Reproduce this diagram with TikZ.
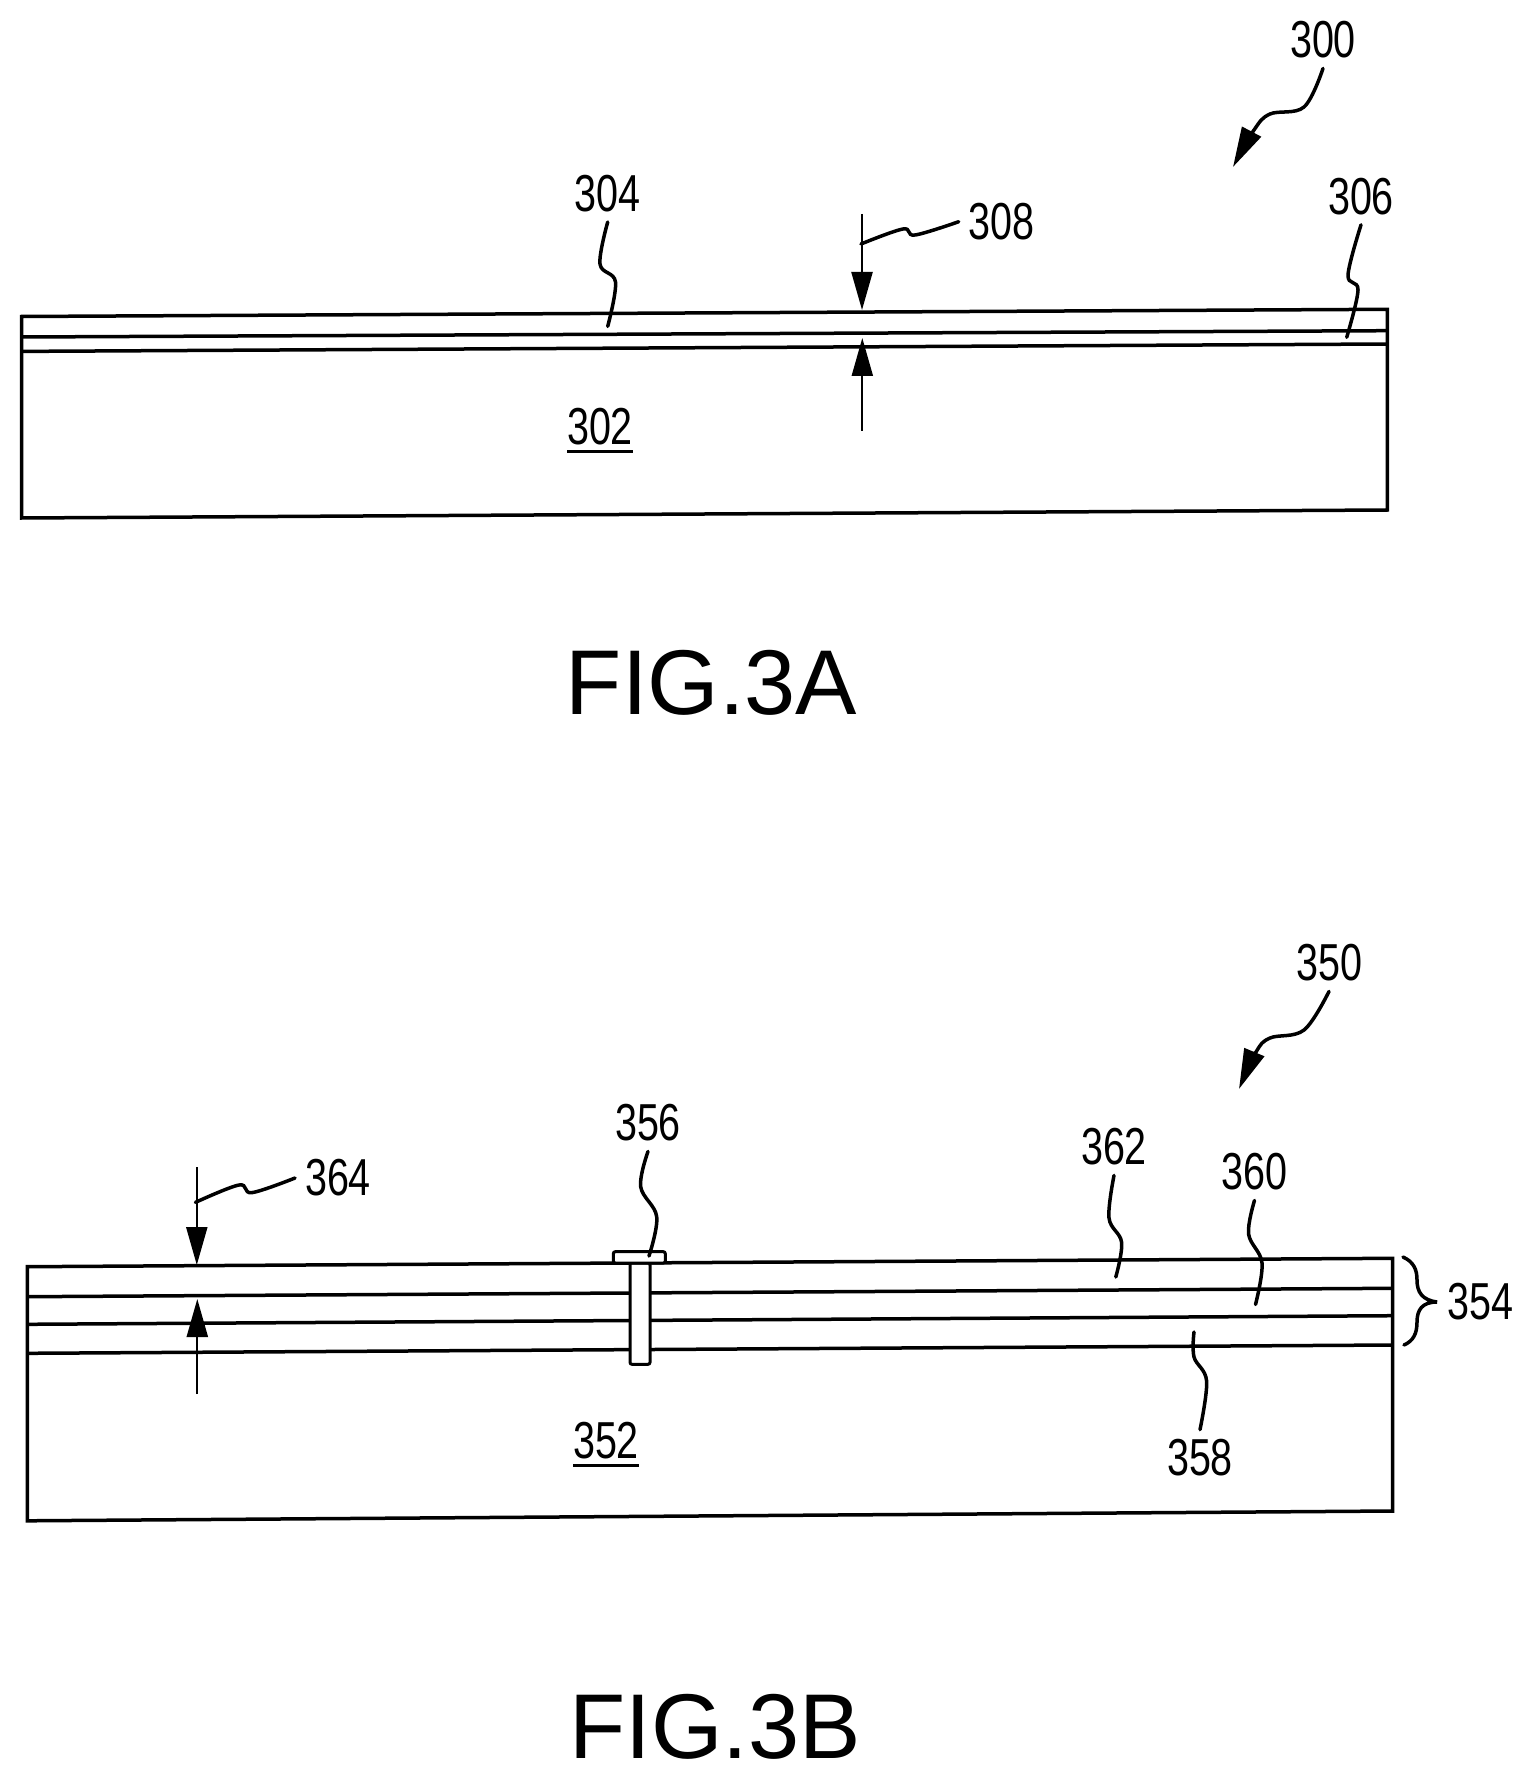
\documentclass[tikz,border=0pt]{standalone}
\usepackage{fontspec}
\setmainfont{Liberation Sans}
\newfontfamily\numfont[FakeStretch=0.76]{Liberation Sans}
\usetikzlibrary{arrows.meta}
\tikzset{
  layer/.style={line width=1.75pt, line join=miter},
  leader/.style={line width=1.75pt, line cap=round},
  dimline/.style={line width=1.1pt, -{Triangle[length=19pt,width=10.5pt]}},
  pointer/.style={leader, -{Triangle[length=20pt,width=10.5pt]}},
  numlabel/.style={inner sep=0pt, outer sep=5pt, font=\numfont\fontsize{26}{26}\selectfont},
  figlabel/.style={inner sep=0pt, font=\fontsize{46}{46}\selectfont}
}
\begin{document}
\begin{tikzpicture}[x=0.5pt,y=-0.5pt]
\useasboundingbox (0,0) rectangle (1532,1775);
\newcommand{\lxa}{21.5}
\newcommand{\rxa}{1387.3}
\newcommand{\lxb}{27.3}
\newcommand{\rxb}{1392.5}
%FIG.3A
\draw [layer] (\lxa,316.5) -- (\rxa,309.3) -- (\rxa,510) -- (\lxa,518) -- cycle;
\draw [layer] (\lxa,337) -- (\rxa,330.7);
\draw [layer] (\lxa,351.4) -- (\rxa,344);
\node [numlabel] (n300) at (1323,40) {300};
\node [numlabel] (n304) at (607.7,193.6) {304};
\node [numlabel] (n306) at (1361,196.4) {306};
\node [numlabel] (n308) at (1001.7,221.7) {308};
\node [numlabel, outer sep=0pt] (n302) at (600,427) {302};
\draw [layer] ([yshift=-3pt]n302.south west) -- ([yshift=-3pt]n302.south east);
\node [figlabel] (fig3a) at (711.5,683) {FIG.3A};
\coordinate (t300) at (1233,167);
\coordinate (t304) at (607.7,326.4);
\coordinate (t306) at (1346.7,337.3);
\coordinate (a308) at (862,214);
\coordinate (b308) at (862,310);
\coordinate (c308) at (862.3,430.7);
\coordinate (d308) at (862.3,338);
\coordinate (e308) at (861,244);
\draw [pointer] plot [smooth,tension=.6] coordinates {(n300.south) (1304,107) (1270,114) (1254,130) (t300)};
\draw [leader] plot [smooth,tension=.6] coordinates {(n304.south) (600,264) (615.5,282) (t304)};
\draw [leader] plot [smooth,tension=.6] coordinates {(n306.south) (1348,275) (1358,290) (t306)};
\draw [dimline] (a308) -- (b308);
\draw [dimline] (c308) -- (d308);
\draw [leader] plot [smooth,tension=.6] coordinates {(e308) (903,229) (915,235) (n308.west)};
%FIG.3B
\draw [layer] (\lxb,1266.7) -- (\rxb,1258.3) -- (\rxb,1511) -- (\lxb,1520.8) -- cycle;
\draw [layer] (\lxb,1296.7) -- (\rxb,1288.3);
\draw [layer] (\lxb,1324.3) -- (\rxb,1315.7);
\draw [layer] (\lxb,1353.3) -- (\rxb,1345);
\draw [line width=1.5pt, fill=white, rounded corners=1pt] (630,1263) rectangle (650,1364.3);
\draw [line width=1.5pt, fill=white, rounded corners=1pt] (613.3,1263) rectangle (665.3,1251.7);
\node [numlabel] (n350) at (1329,963) {350};
\node [numlabel] (n356) at (648,1123) {356};
\node [numlabel] (n362) at (1114,1147) {362};
\node [numlabel] (n360) at (1254.5,1172) {360};
\node [numlabel] (n364) at (338,1178) {364};
\node [numlabel] (n354) at (1480,1302) {354};
\node [numlabel] (n358) at (1200,1458) {358};
\node [numlabel, outer sep=0pt] (n352) at (606,1441) {352};
\draw [layer] ([yshift=-3pt]n352.south west) -- ([yshift=-3pt]n352.south east);
\node [figlabel] (fig3b) at (715,1727) {FIG.3B};
\coordinate (t350) at (1239,1089);
\coordinate (t356) at (649,1256);
\coordinate (t362) at (1115.8,1277);
\coordinate (t360) at (1255.5,1304.5);
\coordinate (t358) at (1194,1332);
\coordinate (a364) at (196.8,1167);
\coordinate (b364) at (196.8,1265);
\coordinate (c364) at (197.3,1394);
\coordinate (d364) at (197.3,1299);
\coordinate (e364) at (195.4,1202.4);
\draw [pointer] plot [smooth,tension=.6] coordinates {(n350.south) (1304,1030) (1270,1038) (1256,1052) (t350)};
\draw [leader] plot [smooth,tension=.6] coordinates {(n356.south) (640.7,1186.7) (656.7,1216.7) (t356)};
\draw [leader] plot [smooth,tension=.6] coordinates {(n362.south) (1109,1218) (1121.6,1242.4) (t362)};
\draw [leader] plot [smooth,tension=.6] coordinates {(n360.south) (1248.6,1234) (1262,1263) (t360)};
\draw [leader] plot [smooth,tension=.6] coordinates {(n358.north) (1206.6,1381) (1194,1357) (t358)};
\draw [dimline] (a364) -- (b364);
\draw [dimline] (c364) -- (d364);
\draw [leader] plot [smooth,tension=.6] coordinates {(e364) (239,1185) (252,1192.6) (n364.west)};
%brace
\draw [leader] (1403,1257) .. controls (1414,1262) and (1417,1270) .. (1417,1280) .. controls (1417,1292) and (1422,1300) .. (n354.west) .. controls (1422,1302) and (1417,1310) .. (1417,1322) .. controls (1417,1334) and (1413,1341) .. (1404,1345);
\end{tikzpicture}
\end{document}
